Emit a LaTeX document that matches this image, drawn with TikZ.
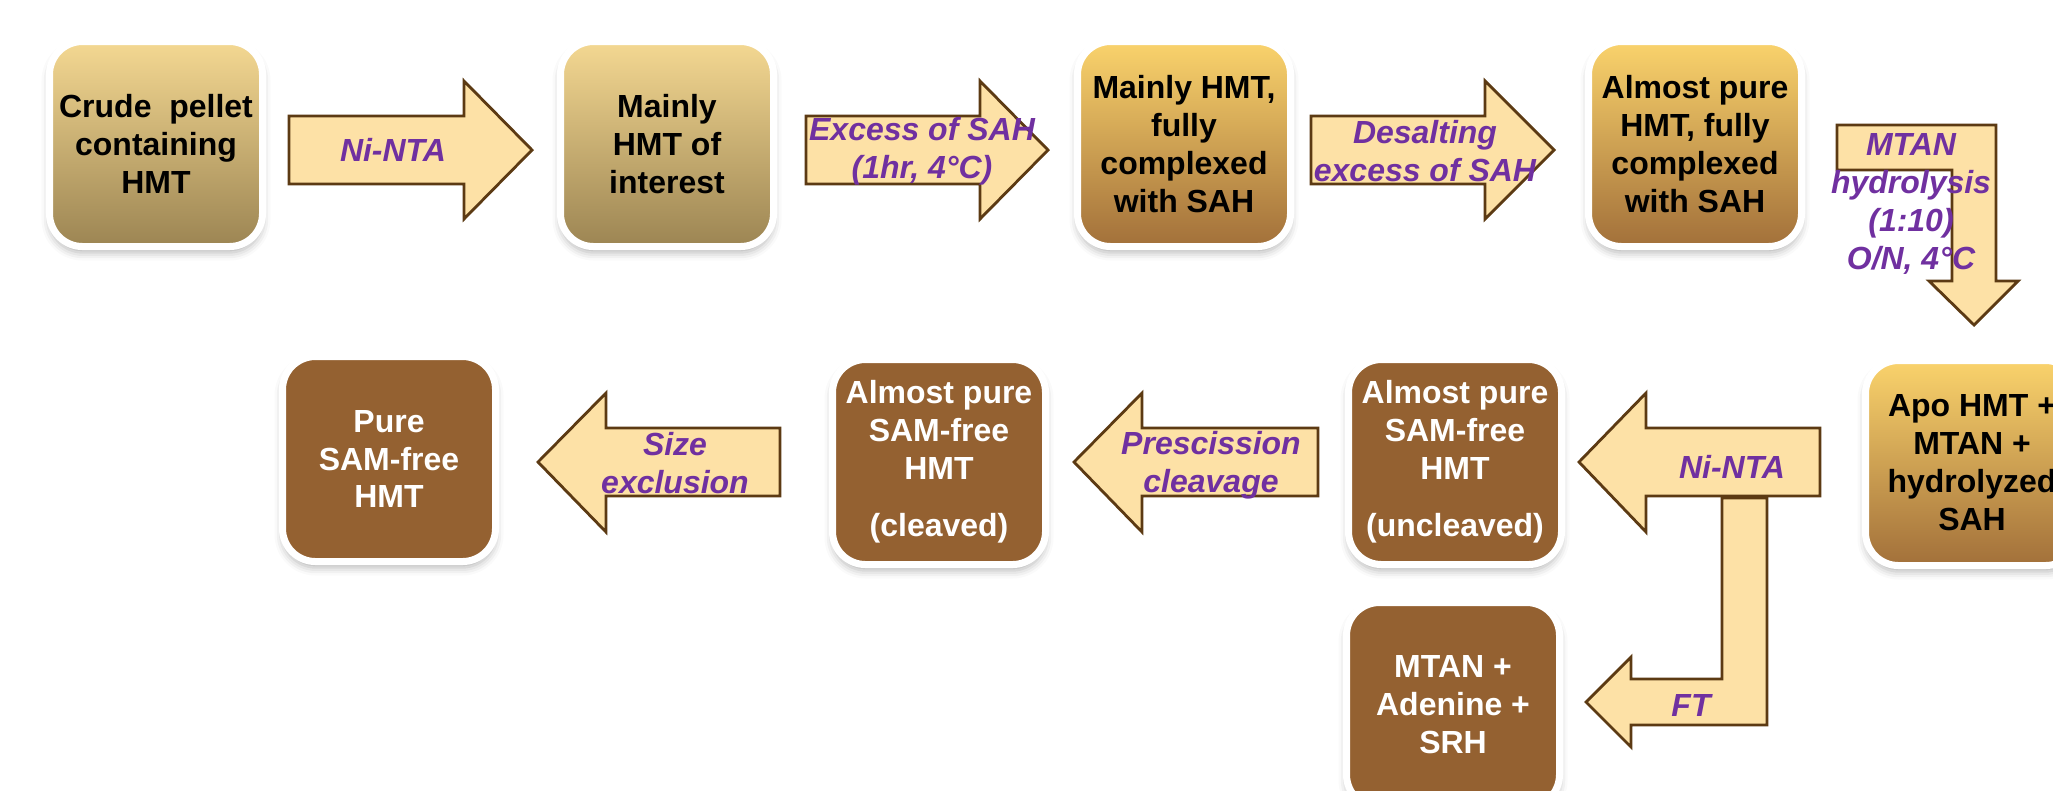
\documentclass[tikz,border=0pt]{standalone}
\usepackage{fontspec}
\setmainfont{Liberation Sans}
\usepackage{xcolor}
\usepackage{tikz}
\usetikzlibrary{shadows.blur}
\definecolor{tanTop}{HTML}{F4D892}
\definecolor{tanBot}{HTML}{9C8553}
\definecolor{goldTop}{HTML}{FAD36C}
\definecolor{goldBot}{HTML}{A2703A}
\definecolor{brownBox}{HTML}{946131}
\definecolor{arrFill}{HTML}{FDE1A6}
\definecolor{arrLine}{HTML}{5C3A13}
\definecolor{labPurple}{HTML}{7030A0}
\tikzstyle{stage} = [rectangle, rounded corners=0.33cm, minimum width=2.13cm, minimum height=2.05cm, inner sep=0pt, draw=white, line width=0.07cm, align=center, font=\fontsize{9.1pt}{10.8pt}\selectfont\bfseries, blur shadow={shadow xshift=0cm, shadow yshift=-0.06cm, shadow blur radius=0.08cm, shadow opacity=30}]
\tikzstyle{crude} = [stage, top color=tanTop, bottom color=tanBot]
\tikzstyle{bound} = [stage, top color=goldTop, bottom color=goldBot]
\tikzstyle{pure} = [stage, fill=brownBox, text=white]
\tikzstyle{blk} = [fill=arrFill, draw=arrLine, line width=0.8pt, line join=miter]
\tikzstyle{lbl} = [text=labPurple, align=center, inner sep=1pt, font=\fontsize{9.1pt}{10.8pt}\selectfont\bfseries\itshape]
\begin{document}
\begin{tikzpicture}
  \clip (0,0) rectangle (20.53,-7.90);
  % Row 1 (binding and complexing)
  \node[crude] (pellet) at (1.56,-1.44) {Crude~ pellet\\containing\\HMT};
  \node[crude] (mainly) at (6.67,-1.44) {Mainly\\HMT of\\interest};
  \node[bound] (cplx) at (11.84,-1.44) {Mainly HMT,\\fully\\complexed\\with SAH};
  \node[bound] (almost) at (16.95,-1.44) {Almost pure\\HMT, fully\\complexed\\with SAH};
  % Row 2 (hydrolysis and cleanup)
  \node[bound] (apo) at (19.72,-4.63) {Apo HMT +\\MTAN +\\hydrolyzed\\SAH};
  \node[pure] (uncl) at (14.55,-4.62) {Almost pure\\SAM-free\\HMT\\[0.19cm](uncleaved)};
  \node[pure] (cleav) at (9.39,-4.62) {Almost pure\\SAM-free\\HMT\\[0.19cm](cleaved)};
  \node[pure] (final) at (3.89,-4.59) {Pure\\SAM-free\\HMT};
  % Row 3 (flow-through)
  \node[pure] (waste) at (14.53,-7.05) {MTAN +\\Adenine +\\SRH};
  % block arrows
  \draw[blk] (2.89,-1.16) -- (4.64,-1.16) -- (4.64,-0.81) -- (5.32,-1.50) -- (4.64,-2.19) -- (4.64,-1.84) -- (2.89,-1.84) -- cycle;
  \draw[blk] (8.06,-1.16) -- (9.80,-1.16) -- (9.80,-0.81) -- (10.48,-1.50) -- (9.80,-2.19) -- (9.80,-1.84) -- (8.06,-1.84) -- cycle;
  \draw[blk] (13.11,-1.16) -- (14.85,-1.16) -- (14.85,-0.81) -- (15.54,-1.50) -- (14.85,-2.19) -- (14.85,-1.84) -- (13.11,-1.84) -- cycle;
  \draw[blk] (18.37,-1.25) -- (19.96,-1.25) -- (19.96,-2.81) -- (20.18,-2.81) -- (19.74,-3.25) -- (19.29,-2.81) -- (19.52,-2.81) -- (19.52,-1.70) -- (18.37,-1.70) -- cycle;
  \draw[blk] (18.20,-4.28) -- (16.46,-4.28) -- (16.46,-3.93) -- (15.79,-4.62) -- (16.46,-5.32) -- (16.46,-4.96) -- (18.20,-4.96) -- cycle;
  \draw[blk] (17.22,-4.98) -- (17.67,-4.98) -- (17.67,-7.25) -- (16.31,-7.25) -- (16.31,-7.47) -- (15.86,-7.02) -- (16.31,-6.57) -- (16.31,-6.79) -- (17.22,-6.79) -- cycle;
  \draw[blk] (13.18,-4.28) -- (11.42,-4.28) -- (11.42,-3.93) -- (10.74,-4.62) -- (11.42,-5.32) -- (11.42,-4.96) -- (13.18,-4.96) -- cycle;
  \draw[blk] (7.80,-4.28) -- (6.06,-4.28) -- (6.06,-3.93) -- (5.38,-4.62) -- (6.06,-5.32) -- (6.06,-4.96) -- (7.80,-4.96) -- cycle;
  % step labels
  \node[lbl] (nta1) at (3.93,-1.50) {Ni-NTA};
  \node[lbl] (sah) at (9.22,-1.51) {Excess of SAH\\(1hr, 4°C)};
  \node[lbl] (desalt) at (14.25,-1.51) {Desalting\\excess of SAH};
  \node[lbl] (mtan) at (19.11,-2.04) {MTAN\\hydrolysis\\(1:10)\\O/N, 4°C};
  \node[lbl] (nta2) at (17.32,-4.67) {Ni-NTA};
  \node[lbl] (ft) at (16.91,-7.05) {FT};
  \node[lbl] (presc) at (12.11,-4.655) {Prescission\\cleavage};
  \node[lbl] (sizex) at (6.75,-4.635) {Size\\exclusion};
\end{tikzpicture}
\end{document}
